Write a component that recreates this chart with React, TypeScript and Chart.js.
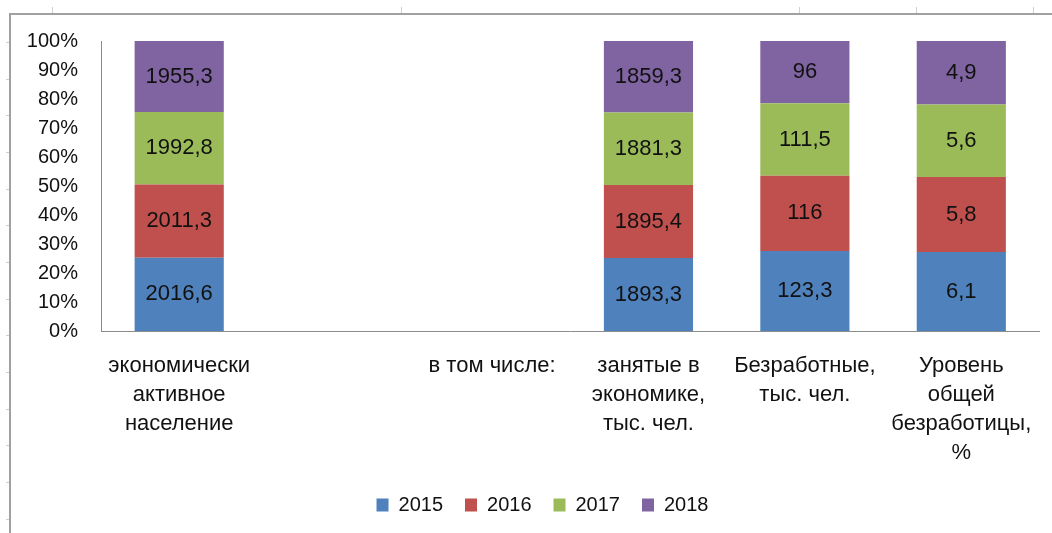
import { useEffect, useRef } from "react";
import { Chart, registerables } from "chart.js";

Chart.register(...registerables);

const categories: (string | string[])[] = [
  ["экономически", "активное", "население"],
  "",
  "в том числе:",
  ["занятые в", "экономике,", "тыс. чел."],
  ["Безработные,", "тыс. чел."],
  ["Уровень", "общей", "безработицы,", "%"],
];
const years = ["2015", "2016", "2017", "2018"];
const values2015 = [2016.6, null, null, 1893.3, 123.3, 6.1];
const values2016 = [2011.3, null, null, 1895.4, 116, 5.8];
const values2017 = [1992.8, null, null, 1881.3, 111.5, 5.6];
const values2018 = [1955.3, null, null, 1859.3, 96, 4.9];
const yTicks = [0, 10, 20, 30, 40, 50, 60, 70, 80, 90, 100];

const colors = ["#4F81BD", "#C0504D", "#9BBB59", "#8064A2"];
const FONT = "'Liberation Sans', Arial, sans-serif";

const series = [values2015, values2016, values2017, values2018];
const totals = categories.map((_, i) =>
  series.reduce((s, arr) => s + (arr[i] ?? 0), 0)
);

const fmt = (v: number) => String(v).replace(".", ",");

const dataLabels = {
  id: "dataLabels",
  afterDatasetsDraw(chart: any) {
    const ctx = chart.ctx;
    ctx.save();
    ctx.font = `22px ${FONT}`;
    ctx.fillStyle = "#111";
    ctx.textAlign = "center";
    ctx.textBaseline = "middle";
    chart.data.datasets.forEach((ds: any, di: number) => {
      const meta = chart.getDatasetMeta(di);
      meta.data.forEach((el: any, i: number) => {
        const raw = ds.rawValues[i];
        if (raw == null) return;
        const y = (el.y + el.base) / 2;
        ctx.fillText(fmt(raw), el.x, y);
      });
    });
    ctx.restore();
  },
};

const legendShift = {
  id: "legendShift",
  afterLayout(chart: any) {
    if (chart.legend) chart.legend.left += 42;
  },
};

export default function App() {
  const ref = useRef<HTMLCanvasElement>(null);

  useEffect(() => {
    if (!ref.current) return;
    const chart = new Chart(ref.current, {
      type: "bar",
      data: {
        labels: categories,
        datasets: series.map((arr, di) => ({
          label: years[di],
          data: arr.map((v, i) => (v == null ? null : (v / totals[i]) * 100)),
          rawValues: arr,
          backgroundColor: colors[di],
          borderWidth: 0,
          categoryPercentage: 1,
          barPercentage: 0.57,
        })) as any,
      },
      options: {
        animation: false,
        responsive: false,
        maintainAspectRatio: false,
        layout: { padding: { left: 0, right: 9, top: 41, bottom: 8 } },
        plugins: {
          tooltip: { enabled: false },
          legend: {
            position: "bottom",
            labels: {
              font: { family: FONT, size: 20 },
              color: "#111",
              boxWidth: 12,
              boxHeight: 13,
              padding: 22,
            },
          },
        },
        scales: {
          x: {
            stacked: true,
            grid: { display: false, drawTicks: false },
            border: { display: true, color: "#8c8c8c", width: 1 },
            ticks: {
              autoSkip: false,
              maxRotation: 0,
              minRotation: 0,
              padding: 20,
              color: "#111",
              font: { family: FONT, size: 22, lineHeight: 1.32 },
            },
            afterFit: (s: any) => {
              s.height = 142;
            },
          },
          y: {
            stacked: true,
            min: 0,
            max: 100,
            grid: { display: false, drawTicks: false },
            border: { display: true, color: "#8c8c8c", width: 1 },
            afterBuildTicks: (s: any) => {
              s.ticks = yTicks.map((v) => ({ value: v }));
            },
            ticks: {
              padding: 23,
              color: "#111",
              font: { family: FONT, size: 20 },
              callback: (v: any) => `${v}%`,
            },
            afterFit: (s: any) => {
              s.width = 101;
            },
          },
        },
      },
      plugins: [dataLabels, legendShift],
    });
    return () => chart.destroy();
  }, []);

  const topMarks = [52, 401, 799, 916, 1033];
  const leftMarks = [42, 79, 115, 152, 189, 225, 262, 299, 335, 372, 409, 445, 482, 519];

  return (
    <div
      style={{
        position: "absolute",
        left: 0,
        top: 0,
        width: 1052,
        height: 533,
        overflow: "hidden",
        background: "#fff",
      }}
    >
      {topMarks.map((x) => (
        <div
          key={"t" + x}
          style={{ position: "absolute", left: x, top: 7, width: 1, height: 6, background: "#d0d0d0" }}
        />
      ))}
      {leftMarks.map((y) => (
        <div
          key={"l" + y}
          style={{ position: "absolute", left: 6, top: y, width: 3, height: 1, background: "#d0d0d0" }}
        />
      ))}
      <div
        style={{
          position: "absolute",
          left: 9,
          top: 13,
          width: 1100,
          height: 600,
          borderTop: "2px solid #a0a0a0",
          borderLeft: "2px solid #a0a0a0",
        }}
      />
      <canvas
        ref={ref}
        width={1052}
        height={533}
        style={{ position: "absolute", left: 0, top: 0, width: 1052, height: 533 }}
      />
    </div>
  );
}
